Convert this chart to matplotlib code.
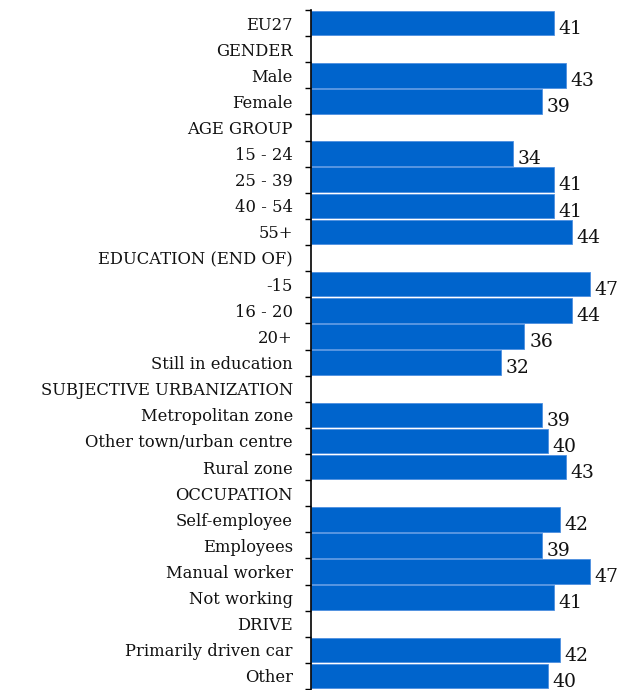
import matplotlib
matplotlib.use("Agg")
import matplotlib.pyplot as plt
import numpy as np

categories = [
    "EU27", "GENDER", "Male", "Female", "AGE GROUP",
    "15 - 24", "25 - 39", "40 - 54", "55+",
    "EDUCATION (END OF)", "-15", "16 - 20", "20+", "Still in education",
    "SUBJECTIVE URBANIZATION", "Metropolitan zone", "Other town/urban centre", "Rural zone",
    "OCCUPATION", "Self-employee", "Employees", "Manual worker", "Not working",
    "DRIVE", "Primarily driven car", "Other",
]
values = [
    41, None, 43, 39, None,
    34, 41, 41, 44,
    None, 47, 44, 36, 32,
    None, 39, 40, 43,
    None, 42, 39, 47, 41,
    None, 42, 40,
]

bar_color = "#0064CC"
serif = ["DejaVu Serif"]

fig = plt.figure(figsize=(6.24, 6.90), dpi=100)
ax = fig.add_axes([311 / 624, 1 - 689 / 690, (624 - 311) / 624, (689 - 10) / 690])

y = np.arange(len(categories))
for yi, v in zip(y, values):
    if v is None:
        continue
    ax.barh(yi, v, height=0.94, color=bar_color, edgecolor="#4d8fe0", linewidth=0.6)
    ax.text(v + 0.8, yi + 0.22, str(v), va="center", ha="left",
            fontsize=13.5, family=serif, color="#111111")

ax.set_xlim(0, 52.8)
ax.set_ylim(len(categories) - 0.5, -0.5)
ax.set_yticks(y)
ax.set_yticklabels(categories, family=serif, fontsize=11.8, color="#111111")
ax.set_yticks(np.arange(len(categories) + 1) - 0.5, minor=True)
ax.tick_params(axis="y", which="major", length=0, pad=13)
ax.tick_params(axis="y", which="minor", length=4, width=1, color="black")
ax.set_xticks([])
for s in ["top", "right", "bottom"]:
    ax.spines[s].set_visible(False)
ax.spines["left"].set_linewidth(1.2)

fig.savefig("out.png", dpi=100)
